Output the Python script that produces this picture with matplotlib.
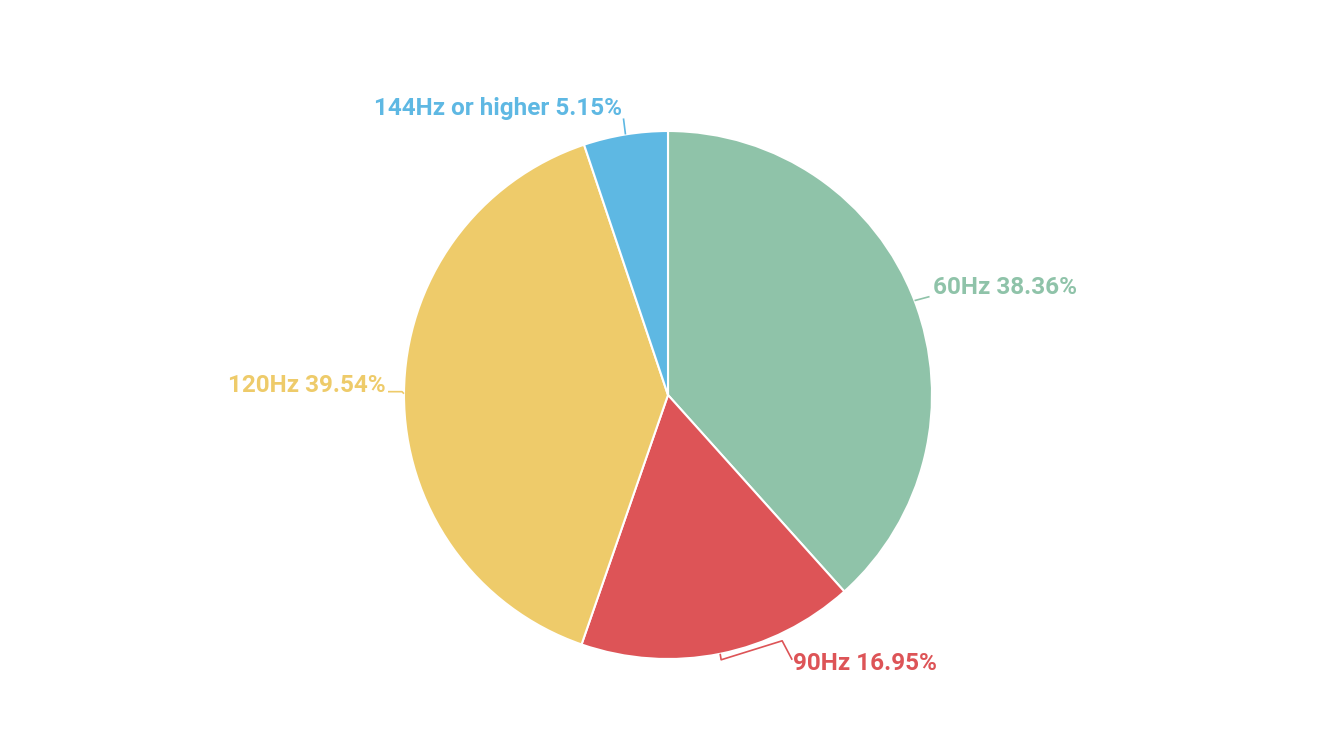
import numpy as np
import matplotlib
matplotlib.use("Agg")
from matplotlib import pyplot as plt

# Data
labels = ["60Hz", "90Hz", "120Hz", "144Hz or higher"]
shares = [38.36, 16.95, 39.54, 5.15]
colors = ["#8fc3a9", "#dd5457", "#eecb6a", "#5eb8e3"]

W, H = 1332, 742
cx, cy, r = 668, H - 395, 264

fig = plt.figure(figsize=(W / 100, H / 100), dpi=100)
ax = fig.add_axes([0, 0, 1, 1])

wedges, _ = ax.pie(shares, colors=colors, startangle=90, counterclock=False,
                   center=(cx, cy), radius=r,
                   wedgeprops=dict(edgecolor="white", linewidth=1.5))
ax.set_xlim(0, W)
ax.set_ylim(0, H)
ax.set_aspect("equal")
ax.axis("off")

# leader line bends (pixel offsets from the slice edge) and label anchors
bends = [
    [(0, 0), (15, 4)],
    [(0, 0), (1, -6), (62, 13), (72, -6)],
    [(0, 0), (-2, 2), (-16, 2)],
    [(0, 0), (-2, 16)],
]
text_off = [(18, 13), (73, -10), (-18, 8), (-3, 26)]
aligns = ["left", "left", "right", "right"]

cum = 0
for lab, val, col, bend, toff, ha in zip(labels, shares, colors, bends, text_off, aligns):
    mid = np.deg2rad((cum + val / 2) / 100 * 360)
    cum += val
    ex, ey = cx + r * np.sin(mid), cy + r * np.cos(mid)
    xs = [ex + b[0] for b in bend]
    ys = [ey + b[1] for b in bend]
    ax.plot(xs, ys, color=col, linewidth=1.2, solid_capstyle="butt")
    ax.text(ex + toff[0], ey + toff[1], f"{lab} {val:.2f}%", color=col,
            fontsize=17.5, fontfamily="Roboto", fontweight="bold",
            ha=ha, va="center")

fig.savefig("out.png", dpi=100, facecolor="white")
